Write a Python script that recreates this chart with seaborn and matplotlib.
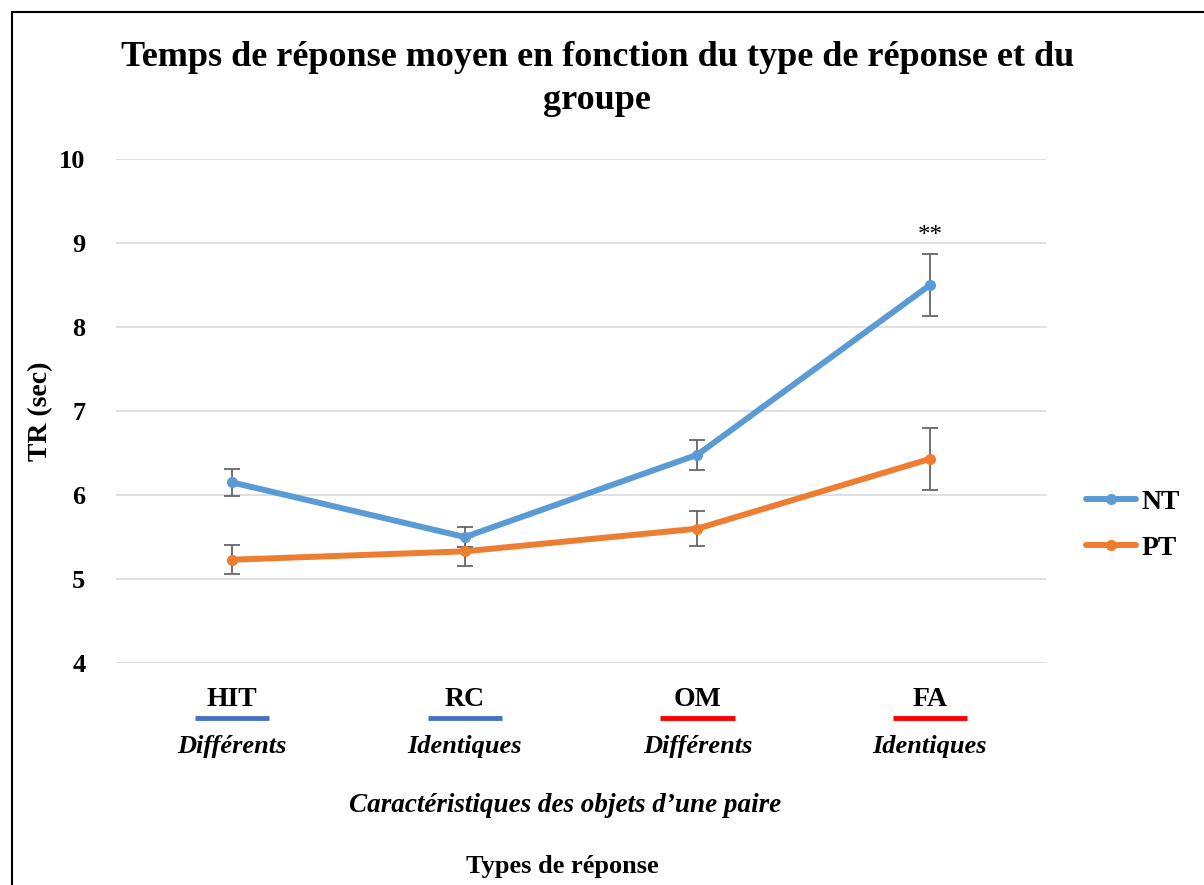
import seaborn as sns
import matplotlib.pyplot as plt
import matplotlib.transforms as mtransforms
from matplotlib.patches import Rectangle
import pandas as pd

# response types and the object pair they refer to
types = ["HIT", "RC", "OM", "FA"]
pairs = ["Différents", "Identiques", "Différents", "Identiques"]
underline_colors = ["#4472C4", "#4472C4", "#FF0000", "#FF0000"]

# mean response time (sec) and error
nt_mean = [6.15, 5.50, 6.48, 8.50]
nt_err = [0.16, 0.12, 0.18, 0.37]
pt_mean = [5.23, 5.33, 5.60, 6.43]
pt_err = [0.17, 0.17, 0.21, 0.37]

groups = ["NT", "PT"]
colors = {"NT": "#5B9BD5", "PT": "#ED7D31"}

df = pd.DataFrame({
    "pos": list(range(len(types))) * 2,
    "TR": nt_mean + pt_mean,
    "err": nt_err + pt_err,
    "groupe": ["NT"] * len(types) + ["PT"] * len(types),
})

sns.set_style("white")
plt.rcParams['font.family'] = ['Liberation Serif', 'DejaVu Serif']
plt.rcParams['text.color'] = 'black'
plt.rcParams['ytick.color'] = 'black'
plt.rcParams['axes.labelcolor'] = 'black'

fig = plt.figure(figsize=(12.04, 8.85), dpi=100)
ax = fig.add_axes([0.0963, 0.2508, 0.7727, 0.5695])

# error bars first so the lines sit on top
for g in groups:
    sub = df[df["groupe"] == g]
    ax.errorbar(sub["pos"], sub["TR"], yerr=sub["err"], fmt="none",
                ecolor="#666666", elinewidth=1.3, capsize=5.5, capthick=1.3, zorder=2)

sns.lineplot(data=df, x="pos", y="TR", hue="groupe", palette=colors,
             marker="o", markersize=8, markeredgewidth=0, linewidth=4.3,
             ax=ax, legend=False, zorder=3)

ax.set_ylim(4, 10)
ax.set_xlim(-0.5, len(types) - 0.5)
ax.set_yticks(range(4, 11))
ax.set_yticklabels([str(v) for v in range(4, 11)], fontsize=19, fontweight="bold")
ax.set_xticks(range(len(types)))
ax.set_xticklabels([])
ax.tick_params(axis="both", length=0, pad=22)
ax.grid(axis="y", color="#D9D9D9", linewidth=1.2)
ax.set_axisbelow(True)
for s in ax.spines.values():
    s.set_visible(False)

ax.set_xlabel("")
ax.set_ylabel("TR (sec)", fontsize=20, fontweight="bold", labelpad=4)

# significance marker
ax.text(3, 9.08, "**", ha="center", va="center", fontsize=18)

# two-line category labels with coloured underline
trans = mtransforms.blended_transform_factory(ax.transData, fig.transFigure)
for i, (t, p, c) in enumerate(zip(types, pairs, underline_colors)):
    ax.text(i, 1 - 699 / 885, t, transform=trans, ha="center", va="center",
            fontsize=20, fontweight="bold")
    ax.plot([i - 0.16, i + 0.16], [1 - 718 / 885] * 2, transform=trans,
            color=c, linewidth=3.5, clip_on=False, solid_capstyle="butt")
    ax.text(i, 1 - 735 / 885, p, transform=trans, ha="center", va="top",
            fontsize=19, fontstyle="italic", fontweight="bold")

fig.text(0.469, 1 - 806 / 885, "Caractéristiques des objets d’une paire", ha="center",
         va="center", fontsize=19.5, fontstyle="italic", fontweight="bold")
fig.text(0.467, 1 - 866 / 885, "Types de réponse", ha="center", va="center",
         fontsize=19, fontweight="bold")

fig.text(0.496, 1 - 79 / 885,
         "Temps de réponse moyen en fonction du type de réponse et du\ngroupe",
         ha="center", va="center", fontsize=26, fontweight="bold", linespacing=1.38)

# legend on the right
handles = [plt.Line2D([], [], color=colors[g], linewidth=4.3, marker="o",
                      markersize=8, markeredgewidth=0) for g in groups]
fig.legend(handles, groups, loc="center left", bbox_to_anchor=(0.881, 1 - 525 / 885),
           frameon=False, prop={"size": 20, "weight": "bold"}, handlelength=1.8,
           handletextpad=0.2, labelspacing=0.75)

# chart frame
fig.patches.append(Rectangle((12 / 1204, -0.1), 1.2, 1.1 - 12 / 885, fill=False,
                             edgecolor="black", linewidth=1.5, transform=fig.transFigure))

fig.savefig("out.png", dpi=100)
